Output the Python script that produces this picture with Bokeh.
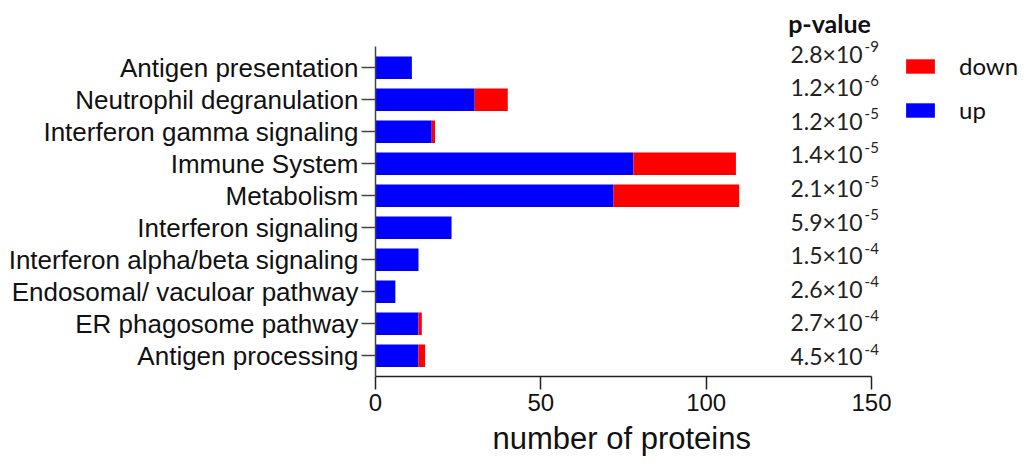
from bokeh.plotting import figure
from bokeh.models import (Range1d, Legend, LegendItem, Label, Title,
                          ColumnDataSource, FixedTicker)
from bokeh.embed import file_html
from bokeh.resources import INLINE

# ---- data (top to bottom as in the chart) ----
categories = ["Antigen presentation", "Neutrophil degranulation",
              "Interferon gamma signaling", "Immune System", "Metabolism",
              "Interferon signaling", "Interferon alpha/beta signaling",
              "Endosomal/ vaculoar pathway", "ER phagosome pathway",
              "Antigen processing"]
up_counts = [11, 30, 17, 78, 72, 23, 13, 6, 13, 13]
down_counts = [0, 10, 1, 31, 38, 0, 0, 0, 1, 2]
p_mantissa = ["2.8", "1.2", "1.2", "1.4", "2.1", "5.9", "1.5", "2.6", "2.7", "4.5"]
p_exponent = ["-9", "-6", "-5", "-5", "-5", "-5", "-4", "-4", "-4", "-4"]
x_ticks = [0, 50, 100, 150]

n = len(categories)
ypos = [n - 1 - i for i in range(n)]          # top category highest
source = ColumnDataSource(dict(y=ypos, cat=categories,
                               up=up_counts, down=down_counts))

p = figure(width=1024, height=464,
           x_range=Range1d(0, 196.27), y_range=Range1d(-0.65, 11.10),
           output_backend="svg", toolbar_location=None,
           min_border_left=375, min_border_right=0,
           min_border_top=0, min_border_bottom=88)

r_up, r_down = p.hbar_stack(["up", "down"], y="y", height=0.7,
                            color=["#0000FF", "#FF0000"], line_color=None,
                            source=source)

p.xgrid.visible = False
p.ygrid.visible = False
p.outline_line_color = None
p.background_fill_color = "white"
p.border_fill_color = "white"

# x axis
xa = p.xaxis[0]
xa.bounds = (x_ticks[0], x_ticks[-1])
xa.ticker = FixedTicker(ticks=x_ticks)
xa.major_label_text_font = "Liberation Sans"
xa.major_label_text_font_size = "24px"
xa.major_label_text_color = "#111111"
xa.major_label_standoff = 4
xa.major_tick_out = 13
xa.major_tick_in = 0
xa.minor_tick_out = 0
xa.minor_tick_in = 0
xa.axis_line_width = 1.5
xa.axis_line_color = "#222222"
xa.major_tick_line_width = 1.5
xa.major_tick_line_color = "#222222"

# x-axis title, centred under the 0-150 axis span
p.add_layout(Title(text="number of proteins", align="left", offset=117,
                   text_font="Liberation Sans", text_font_size="31px",
                   text_font_style="normal", text_color="#111111",
                   vertical_align="bottom", standoff=10), "below")

# y axis (categories as tick labels)
ya = p.yaxis[0]
ya.bounds = (-0.67, n - 1 + 0.67)
ya.ticker = FixedTicker(ticks=ypos)
ya.major_label_overrides = {y: c for y, c in zip(ypos, categories)}
ya.minor_tick_out = 0
ya.minor_tick_in = 0
ya.major_label_text_font = "Liberation Sans"
ya.major_label_text_font_size = "26px"
ya.major_label_text_color = "#111111"
ya.major_label_standoff = 3
ya.major_tick_out = 14
ya.major_tick_in = 0
ya.axis_line_width = 1.5
ya.axis_line_color = "#444444"
ya.major_tick_line_width = 1.5
ya.major_tick_line_color = "#444444"

# p-value column
P_X = 147.3      # right edge of mantissa text (data units)
P_TOP = 9.44
P_STEP = 1.05
p.add_layout(Label(x=124.8, y=10.40, text="p-value", text_font="Lato",
                   text_font_size="25px", text_font_style="bold",
                   text_color="#111111", text_baseline="middle",
                   text_align="left"))
for i, (m, e) in enumerate(zip(p_mantissa, p_exponent)):
    yy = P_TOP - P_STEP * i
    p.add_layout(Label(x=P_X, y=yy, text=m + "×10", text_font="Lato",
                       text_font_size="23px", text_color="#222222",
                       text_align="right", text_baseline="middle"))
    p.add_layout(Label(x=P_X, x_offset=2, y=yy, y_offset=7, text=e,
                       text_font="Lato", text_font_size="15px",
                       text_color="#222222", text_align="left",
                       text_baseline="middle"))

legend = Legend(items=[LegendItem(label="down", renderers=[r_down]),
                       LegendItem(label="up", renderers=[r_up])],
                location=(527, 252), glyph_width=36, glyph_height=18,
                label_text_font="Lato", label_text_font_size="24px",
                label_text_color="#111111", label_standoff=21,
                spacing=15, padding=0, margin=0,
                border_line_color=None, background_fill_alpha=0)
p.add_layout(legend)

open("out.html", "w").write(file_html(p, INLINE))
